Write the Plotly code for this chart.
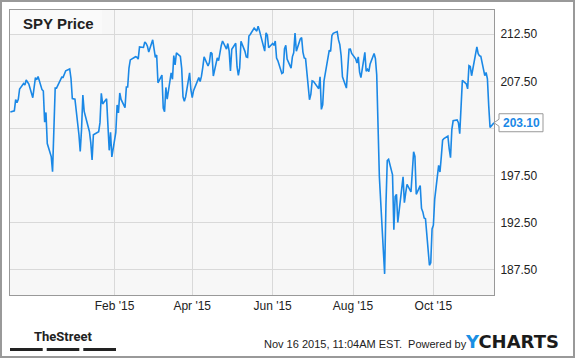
import pandas as pd
import plotly.graph_objects as go

# ---------------- data ----------------
holidays = ["2014-11-27", "2014-12-25", "2015-01-01", "2015-01-19", "2015-02-16",
            "2015-04-03", "2015-05-25", "2015-07-03", "2015-09-07"]
start_date = "2014-11-14"
end_date = "2015-11-16"

nov14 = [204.24, 204.37, 205.55, 205.22, 205.58, 206.68, 207.26, 207.11, 207.64, 207.20]
dec14 = [205.76, 207.09, 207.89, 207.66, 208.00, 206.61, 206.47, 203.16, 204.19, 200.89, 199.51,
         197.91, 201.79, 206.78, 206.77, 207.56, 207.94, 207.92, 208.62, 208.81, 207.80, 205.66]
jan15 = [205.60, 201.85, 200.06, 202.40, 206.03, 204.31, 202.67, 202.15, 200.99, 199.14,
         201.82, 202.15, 203.11, 206.23, 205.10, 205.64, 202.90, 200.17, 202.09, 199.47]
feb15 = [202.07, 204.99, 204.15, 206.26, 205.57, 204.70, 206.90, 206.90, 208.91, 209.77,
         210.11, 210.06, 209.85, 211.14, 211.09, 211.68, 211.53, 211.22, 210.61]
mar15 = [211.91, 210.96, 210.04, 210.30, 207.34, 208.16, 204.65, 204.26, 206.85, 205.60, 208.39,
         207.71, 210.24, 209.23, 210.51, 210.15, 208.87, 205.85, 205.37, 205.86, 208.40, 206.58]
apr15 = [205.77, 206.51, 207.89, 207.47, 208.04, 208.98, 210.09, 209.13, 209.48, 210.58, 210.43,
         208.06, 209.99, 209.70, 210.78, 211.28, 211.78, 210.91, 211.51, 210.74, 208.61]
may15 = [210.90, 211.54, 209.05, 208.13, 208.93, 211.75, 210.68, 210.08, 210.03, 212.30,
         212.47, 213.14, 213.01, 212.83, 213.34, 212.88, 210.70, 212.65, 212.39, 211.06]
jun15 = [211.51, 211.31, 211.77, 209.96, 209.67, 208.33, 208.43, 210.95, 211.33, 209.86, 208.90,
         210.10, 210.52, 212.62, 210.70, 212.00, 212.15, 210.60, 209.98, 209.91, 205.54, 206.10]
jul15 = [207.54, 207.49, 206.71, 207.97, 204.52, 205.00, 207.54, 209.85, 210.80, 210.66, 212.36,
         212.60, 212.78, 211.89, 211.40, 210.21, 207.98, 206.78, 209.36, 210.90, 210.92, 210.45]
aug15 = [209.88, 209.43, 210.09, 208.48, 207.90, 210.57, 208.57, 208.78, 208.53, 209.35, 210.45,
         209.92, 208.20, 203.82, 197.36, 189.60, 187.05, 194.35, 199.09, 199.22, 197.56]
sep15 = [191.75, 195.26, 195.49, 192.51, 197.35, 194.62, 195.66, 196.55, 195.76, 198.28, 200.01,
         199.52, 195.50, 196.42, 194.00, 193.63, 192.98, 192.91, 187.97, 188.22, 191.82]
oct15 = [192.22, 194.99, 198.58, 197.87, 199.48, 201.25, 201.42, 201.69, 200.33, 199.39, 202.38,
         203.31, 203.39, 203.11, 201.94, 205.31, 207.60, 207.21, 206.70, 209.16, 209.08, 208.09]
nov15 = [210.58, 211.16, 210.43, 210.20, 210.15, 208.10, 208.43, 207.77, 204.89, 202.60, 203.10]

x_tickvals = ["2015-02-01", "2015-04-01", "2015-06-01", "2015-08-01", "2015-10-01"]
x_ticktext = ["Feb '15", "Apr '15", "Jun '15", "Aug '15", "Oct '15"]
y_tickvals = [187.5, 192.5, 197.5, 202.5, 207.5, 212.5]
# 202.50 sits behind the last-value callout in the original, so it is not shown
y_ticktext = ["187.50", "192.50", "197.50", "", "207.50", "212.50"]

title_text = "SPY Price"
stamp_text = "Nov 16 2015, 11:04AM EST.  Powered by"
brand_text = "TheStreet"

# ---------------- build ----------------
prices = nov14 + dec14 + jan15 + feb15 + mar15 + apr15 + may15 + jun15 + jul15 + aug15 + sep15 + oct15 + nov15
dates = pd.bdate_range(start_date, end_date, freq="C", holidays=holidays)
assert len(dates) == len(prices), (len(dates), len(prices))
last_price = prices[-1]

W, H = 575, 358
ML, MR, MT, MB = 10, 81, 10, 63
PW, PH = W - ML - MR, H - MT - MB
x_range = ["2014-11-13 17:00", "2015-11-16 00:00"]
y_range = [184.81, 215.07]

def px(x):
    return (x - ML) / PW

def py(y):
    return (H - MB - y) / PH

FONT = "Liberation Sans, Arial, sans-serif"
BLUE = "#1a88e6"
GRID = "#d9d9d9"
FRAME = "#999999"

fig = go.Figure(go.Scatter(x=dates, y=prices, mode="lines",
                           line=dict(color=BLUE, width=1.6), hoverinfo="skip"))

shapes = [
    # title box
    dict(type="rect", xref="paper", yref="paper", x0=0, x1=px(102), y0=py(35), y1=1,
         fillcolor="#fafafa", line=dict(width=0), layer="between"),
    # outer frame
    dict(type="rect", xref="paper", yref="paper", x0=px(1), x1=px(574), y0=py(357), y1=py(1),
         line=dict(color="#999999", width=2), fillcolor="rgba(0,0,0,0)", layer="above"),
    # last-value callout
    dict(type="path", xref="paper", yref="paper", xsizemode="pixel", ysizemode="pixel",
         xanchor=1, yanchor=(last_price - y_range[0]) / (y_range[1] - y_range[0]),
         path="M0,0 L5,3.5 L5,9 L49,9 L49,-9 L5,-9 L5,-3.5 Z",
         fillcolor="white", line=dict(color="#999999", width=1), layer="above"),
]
# TheStreet bars
for x0, x1 in [(10, 42.7), (46.7, 79.3), (83.3, 116)]:
    shapes.append(dict(type="rect", xref="paper", yref="paper", x0=px(x0), x1=px(x1),
                       y0=py(351), y1=py(348), fillcolor="#222222", line=dict(width=0)))

annotations = [
    dict(text="<b>%s</b>" % title_text, xref="paper", yref="paper", x=px(21), y=py(23.5),
         xanchor="left", yanchor="middle", showarrow=False,
         font=dict(family=FONT, size=15, color="#222222")),
    dict(text="<b>%.2f</b>" % last_price, xref="paper", yref="y", x=1, y=last_price,
         xshift=27, xanchor="center", yanchor="middle", showarrow=False,
         font=dict(family=FONT, size=12, color=BLUE)),
    dict(text="<b>%s</b>" % brand_text, xref="paper", yref="paper", x=px(63), y=py(336),
         xanchor="center", yanchor="middle", showarrow=False,
         font=dict(family="Liberation Sans Narrow, Roboto, Liberation Sans, sans-serif",
                   size=13, color="#222222")),
    dict(text=stamp_text, xref="paper", yref="paper", x=px(261.5), y=py(344),
         xanchor="left", yanchor="middle", showarrow=False,
         font=dict(family=FONT, size=11, color="#222222")),
    dict(text="<b><span style='color:#1a8fe3'>Y</span>CHARTS</b>", xref="paper", yref="paper",
         x=px(463), y=py(341.5), xanchor="left", yanchor="middle", showarrow=False,
         font=dict(family="DejaVu Sans, sans-serif", size=18, color="#1b1b1b")),
]

fig.update_layout(
    width=W, height=H, margin=dict(l=ML, r=MR, t=MT, b=MB),
    paper_bgcolor="white", plot_bgcolor="#f7f7f7", showlegend=False,
    shapes=shapes, annotations=annotations,
    xaxis=dict(type="date", range=x_range, tickvals=x_tickvals, ticktext=x_ticktext,
               showgrid=True, gridcolor=GRID, gridwidth=1, zeroline=False,
               showline=True, linecolor=FRAME, linewidth=1, mirror=True, ticks="",
               tickfont=dict(family=FONT, size=12, color="#222222")),
    yaxis=dict(range=y_range, side="right", tickvals=y_tickvals, ticktext=y_ticktext,
               showgrid=True, gridcolor=GRID, gridwidth=1, zeroline=False,
               showline=True, linecolor=FRAME, linewidth=1, mirror=True, ticks="",
               ticklabelstandoff=3,
               tickfont=dict(family=FONT, size=12, color="#222222")),
)

fig.write_html("out.html")
